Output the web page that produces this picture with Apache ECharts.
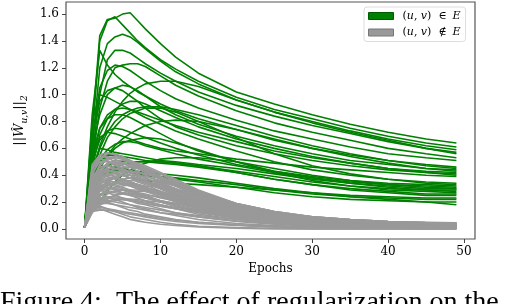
<!DOCTYPE html>
<html>
<head>
<meta charset="utf-8">
<script src="https://cdn.jsdelivr.net/npm/echarts@6/dist/echarts.min.js"></script>
<style>
html,body{margin:0;padding:0;background:#fff;}
#chart{width:508px;height:304px;}
</style>
</head>
<body>
<div id="chart"></div>
<script>
// ---- data ----
const epochs = [0,1,2,3,4,5,6,7,8,10,12,15,20,25,30,35,40,45,49];
const xTicks = [0,10,20,30,40,50];
const yTicks = [0,0.2,0.4,0.6,0.8,1.0,1.2,1.4,1.6];
const edgeLabel = '(u, v) ∈ E';
const nonEdgeLabel = '(u, v) ∉ E';
const captionText = 'Figure 4:  The effect of regularization on the';

// ||W_uv|| for true edges (one row per edge, values at `epochs`)
const edgeNorms = [
 [0.01,0.75,1.44,1.56,1.57,1.60,1.61,1.55,1.49,1.38,1.28,1.16,1.02,0.93,0.85,0.78,0.72,0.67,0.64],
 [0.01,0.70,1.40,1.55,1.58,1.52,1.46,1.40,1.35,1.26,1.19,1.10,0.98,0.89,0.82,0.75,0.69,0.64,0.61],
 [0.01,0.60,1.20,1.38,1.43,1.45,1.43,1.39,1.34,1.25,1.17,1.08,0.96,0.87,0.80,0.73,0.67,0.62,0.59],
 [0.01,0.55,1.00,1.26,1.33,1.33,1.31,1.27,1.23,1.16,1.10,1.02,0.92,0.84,0.77,0.71,0.65,0.60,0.57],
 [0.01,0.40,0.62,0.76,0.87,0.95,1.01,1.05,1.08,1.10,1.10,1.06,0.96,0.87,0.79,0.72,0.66,0.60,0.56],
 [0.01,0.50,0.90,1.10,1.20,1.22,1.23,1.23,1.21,1.14,1.07,0.99,0.88,0.79,0.72,0.66,0.60,0.56,0.53],
 [0.01,0.65,1.05,1.18,1.22,1.21,1.18,1.14,1.10,1.03,0.97,0.90,0.81,0.73,0.67,0.61,0.56,0.53,0.51],
 [0.01,0.85,1.33,1.22,1.15,1.10,1.06,1.02,0.99,0.93,0.88,0.82,0.74,0.66,0.60,0.55,0.51,0.48,0.46],
 [0.01,0.60,0.85,1.00,1.05,1.07,1.06,1.03,0.99,0.91,0.85,0.78,0.69,0.62,0.56,0.51,0.48,0.45,0.44],
 [0.01,0.40,0.60,0.72,0.80,0.85,0.88,0.90,0.91,0.91,0.89,0.85,0.77,0.69,0.62,0.56,0.51,0.47,0.45],
 [0.01,0.50,0.75,0.85,0.89,0.90,0.89,0.87,0.85,0.81,0.77,0.72,0.65,0.58,0.53,0.49,0.45,0.43,0.42],
 [0.01,0.45,0.70,0.82,0.89,0.93,0.95,0.95,0.93,0.88,0.83,0.76,0.67,0.60,0.54,0.49,0.45,0.42,0.41],
 [0.01,0.30,0.45,0.55,0.62,0.67,0.71,0.74,0.77,0.80,0.81,0.80,0.74,0.67,0.60,0.54,0.49,0.45,0.43],
 [0.01,0.55,0.68,0.72,0.71,0.69,0.67,0.65,0.63,0.60,0.58,0.56,0.52,0.49,0.46,0.44,0.42,0.40,0.39],
 [0.01,0.70,0.95,1.03,1.05,1.03,0.99,0.95,0.90,0.82,0.76,0.70,0.62,0.56,0.51,0.47,0.44,0.42,0.40],
 [0.01,0.80,1.00,0.98,0.95,0.92,0.89,0.86,0.83,0.78,0.73,0.67,0.58,0.50,0.44,0.40,0.37,0.35,0.34],
 [0.01,0.35,0.55,0.68,0.76,0.82,0.86,0.88,0.90,0.90,0.87,0.80,0.68,0.56,0.47,0.41,0.37,0.34,0.33],
 [0.01,0.50,0.66,0.73,0.75,0.74,0.72,0.70,0.68,0.64,0.60,0.55,0.48,0.43,0.39,0.36,0.34,0.33,0.32],
 [0.01,0.40,0.52,0.59,0.63,0.65,0.65,0.64,0.62,0.59,0.56,0.52,0.47,0.42,0.38,0.35,0.33,0.32,0.31],
 [0.01,0.45,0.60,0.59,0.57,0.56,0.55,0.54,0.53,0.51,0.50,0.48,0.45,0.41,0.37,0.34,0.32,0.30,0.30],
 [0.01,0.55,0.75,0.82,0.85,0.85,0.83,0.80,0.77,0.71,0.65,0.58,0.50,0.43,0.38,0.34,0.31,0.29,0.29],
 [0.01,0.35,0.50,0.55,0.55,0.54,0.53,0.52,0.51,0.50,0.49,0.47,0.43,0.39,0.35,0.32,0.30,0.29,0.28],
 [0.01,0.30,0.45,0.54,0.60,0.64,0.66,0.67,0.68,0.67,0.64,0.59,0.50,0.42,0.36,0.32,0.29,0.28,0.27],
 [0.01,0.30,0.42,0.47,0.49,0.50,0.50,0.50,0.50,0.49,0.48,0.46,0.42,0.37,0.33,0.30,0.28,0.26,0.26],
 [0.01,0.25,0.38,0.44,0.47,0.48,0.49,0.50,0.50,0.50,0.49,0.47,0.42,0.37,0.33,0.29,0.27,0.25,0.25],
 [0.01,0.35,0.45,0.47,0.46,0.45,0.44,0.43,0.42,0.41,0.40,0.38,0.34,0.30,0.27,0.25,0.24,0.23,0.23],
 [0.01,0.30,0.42,0.44,0.44,0.43,0.42,0.41,0.40,0.39,0.38,0.36,0.33,0.29,0.26,0.24,0.23,0.22,0.22],
 [0.01,0.25,0.38,0.42,0.43,0.43,0.42,0.41,0.40,0.38,0.37,0.35,0.31,0.27,0.24,0.22,0.21,0.20,0.20],
 [0.01,0.18,0.40,0.44,0.42,0.40,0.38,0.37,0.36,0.35,0.34,0.33,0.31,0.29,0.27,0.24,0.22,0.20,0.18],
 [0.01,0.17,0.20,0.28,0.35,0.40,0.44,0.47,0.49,0.52,0.53,0.53,0.50,0.45,0.40,0.36,0.33,0.31,0.30]
];

// ||W_uv|| for non-edges
const nonEdgeNorms = [
 [0.01,0.45,0.55,0.57,0.55,0.52,0.49,0.46,0.43,0.38,0.33,0.26,0.17,0.12,0.09,0.07,0.055,0.048,0.045],
 [0.01,0.40,0.52,0.56,0.56,0.54,0.51,0.48,0.45,0.39,0.33,0.25,0.16,0.11,0.08,0.06,0.05,0.04,0.04],
 [0.01,0.48,0.55,0.53,0.50,0.47,0.44,0.41,0.38,0.33,0.28,0.22,0.14,0.10,0.07,0.05,0.04,0.035,0.03],
 [0.01,0.35,0.47,0.52,0.53,0.52,0.50,0.47,0.44,0.38,0.32,0.24,0.15,0.10,0.07,0.055,0.045,0.04,0.035],
 [0.01,0.30,0.42,0.48,0.51,0.51,0.50,0.48,0.46,0.41,0.35,0.27,0.17,0.11,0.08,0.06,0.05,0.04,0.04],
 [0.01,0.42,0.50,0.50,0.48,0.45,0.42,0.39,0.36,0.30,0.25,0.19,0.12,0.08,0.055,0.04,0.03,0.025,0.02],
 [0.01,0.28,0.38,0.44,0.47,0.48,0.48,0.47,0.45,0.41,0.36,0.28,0.18,0.12,0.085,0.065,0.05,0.045,0.04],
 [0.01,0.38,0.46,0.47,0.45,0.43,0.40,0.37,0.35,0.30,0.26,0.20,0.13,0.09,0.06,0.045,0.035,0.03,0.025],
 [0.01,0.33,0.42,0.45,0.45,0.44,0.42,0.40,0.38,0.34,0.29,0.23,0.15,0.10,0.07,0.05,0.04,0.035,0.03],
 [0.01,0.25,0.35,0.40,0.42,0.43,0.43,0.42,0.41,0.38,0.34,0.27,0.18,0.12,0.08,0.06,0.05,0.04,0.035],
 [0.01,0.40,0.44,0.42,0.39,0.36,0.34,0.32,0.30,0.26,0.22,0.17,0.11,0.07,0.05,0.035,0.025,0.02,0.02],
 [0.01,0.30,0.38,0.41,0.41,0.40,0.38,0.36,0.34,0.30,0.26,0.21,0.14,0.09,0.065,0.05,0.04,0.03,0.03],
 [0.01,0.22,0.30,0.35,0.38,0.40,0.40,0.40,0.39,0.36,0.32,0.26,0.17,0.11,0.08,0.06,0.045,0.04,0.035],
 [0.01,0.35,0.40,0.39,0.37,0.35,0.33,0.31,0.29,0.25,0.21,0.16,0.10,0.065,0.045,0.03,0.025,0.02,0.015],
 [0.01,0.28,0.35,0.38,0.38,0.37,0.35,0.33,0.31,0.27,0.23,0.18,0.12,0.08,0.055,0.04,0.03,0.025,0.02],
 [0.01,0.20,0.28,0.32,0.35,0.36,0.36,0.36,0.35,0.33,0.30,0.25,0.17,0.11,0.08,0.06,0.045,0.04,0.035],
 [0.01,0.32,0.36,0.35,0.33,0.31,0.29,0.27,0.25,0.21,0.18,0.14,0.09,0.06,0.04,0.03,0.02,0.015,0.015],
 [0.01,0.25,0.32,0.34,0.34,0.33,0.32,0.30,0.29,0.26,0.23,0.19,0.13,0.09,0.06,0.045,0.035,0.03,0.025],
 [0.01,0.18,0.25,0.29,0.31,0.32,0.33,0.33,0.32,0.31,0.28,0.24,0.17,0.12,0.085,0.065,0.05,0.04,0.035],
 [0.01,0.30,0.33,0.31,0.29,0.27,0.25,0.23,0.21,0.18,0.15,0.11,0.07,0.045,0.03,0.02,0.015,0.01,0.01],
 [0.01,0.22,0.28,0.30,0.30,0.29,0.28,0.27,0.26,0.23,0.21,0.17,0.12,0.08,0.055,0.04,0.03,0.025,0.02],
 [0.01,0.16,0.22,0.26,0.28,0.29,0.29,0.29,0.28,0.27,0.25,0.21,0.15,0.10,0.07,0.05,0.04,0.035,0.03],
 [0.01,0.27,0.29,0.27,0.25,0.23,0.21,0.19,0.18,0.15,0.12,0.09,0.055,0.035,0.02,0.015,0.01,0.01,0.01],
 [0.01,0.20,0.25,0.27,0.27,0.26,0.25,0.24,0.23,0.21,0.19,0.16,0.11,0.075,0.05,0.035,0.025,0.02,0.02],
 [0.01,0.15,0.20,0.23,0.25,0.26,0.26,0.26,0.25,0.24,0.22,0.19,0.14,0.10,0.07,0.05,0.04,0.03,0.03],
 [0.01,0.24,0.26,0.24,0.22,0.20,0.18,0.16,0.15,0.12,0.10,0.07,0.04,0.025,0.015,0.01,0.01,0.005,0.005],
 [0.01,0.18,0.22,0.23,0.23,0.22,0.21,0.20,0.19,0.17,0.15,0.13,0.09,0.06,0.04,0.03,0.02,0.015,0.015],
 [0.01,0.14,0.18,0.20,0.21,0.22,0.22,0.22,0.21,0.20,0.19,0.17,0.13,0.09,0.065,0.05,0.04,0.03,0.03],
 [0.01,0.21,0.22,0.20,0.18,0.16,0.14,0.13,0.11,0.09,0.07,0.05,0.03,0.015,0.01,0.005,0.005,0.0,0.0],
 [0.01,0.16,0.19,0.19,0.18,0.17,0.16,0.15,0.14,0.12,0.11,0.09,0.06,0.04,0.025,0.02,0.015,0.01,0.01],
 [0.01,0.17,0.17,0.15,0.13,0.11,0.09,0.08,0.07,0.05,0.035,0.02,0.01,0.005,0.0,0.0,0.0,0.0,0.0],
 [0.01,0.15,0.16,0.15,0.14,0.13,0.12,0.11,0.10,0.08,0.065,0.05,0.03,0.02,0.01,0.01,0.005,0.005,0.005],
 [0.01,0.14,0.15,0.13,0.11,0.09,0.07,0.06,0.05,0.035,0.025,0.015,0.005,0.0,0.0,0.0,0.0,0.0,0.0],
 [0.01,0.13,0.14,0.14,0.13,0.12,0.11,0.10,0.09,0.07,0.055,0.04,0.025,0.015,0.01,0.005,0.005,0.005,0.005],
 [0.01,0.36,0.48,0.53,0.54,0.53,0.51,0.49,0.47,0.42,0.37,0.29,0.19,0.13,0.09,0.07,0.055,0.05,0.045],
 [0.01,0.26,0.36,0.42,0.45,0.46,0.46,0.45,0.43,0.39,0.34,0.27,0.17,0.11,0.075,0.055,0.045,0.04,0.035],
 [0.01,0.44,0.52,0.51,0.48,0.45,0.42,0.39,0.36,0.31,0.27,0.21,0.14,0.10,0.07,0.05,0.04,0.035,0.03],
 [0.01,0.20,0.30,0.36,0.39,0.41,0.42,0.42,0.41,0.38,0.34,0.28,0.19,0.13,0.09,0.07,0.055,0.045,0.04],
 [0.01,0.12,0.18,0.22,0.25,0.27,0.28,0.28,0.28,0.27,0.25,0.22,0.16,0.11,0.08,0.06,0.045,0.04,0.035],
 [0.01,0.38,0.43,0.44,0.42,0.40,0.38,0.35,0.33,0.28,0.24,0.18,0.12,0.08,0.055,0.04,0.03,0.025,0.02],
 [0.01,0.23,0.33,0.37,0.38,0.37,0.35,0.33,0.31,0.27,0.23,0.18,0.12,0.08,0.055,0.04,0.03,0.025,0.02],
 [0.01,0.19,0.26,0.28,0.28,0.27,0.26,0.25,0.24,0.21,0.19,0.15,0.10,0.07,0.045,0.035,0.025,0.02,0.02],
 [0.01,0.16,0.24,0.30,0.34,0.37,0.38,0.38,0.37,0.35,0.32,0.27,0.19,0.13,0.09,0.07,0.055,0.045,0.04],
 [0.01,0.32,0.40,0.43,0.43,0.42,0.40,0.38,0.36,0.32,0.28,0.22,0.15,0.10,0.07,0.05,0.04,0.035,0.03],
 [0.01,0.17,0.21,0.21,0.20,0.19,0.18,0.17,0.16,0.14,0.12,0.10,0.07,0.045,0.03,0.02,0.015,0.01,0.01],
 [0.01,0.27,0.34,0.36,0.35,0.34,0.32,0.30,0.28,0.24,0.20,0.15,0.09,0.06,0.04,0.03,0.02,0.015,0.01],
 [0.01,0.21,0.29,0.33,0.34,0.34,0.33,0.32,0.31,0.28,0.25,0.20,0.14,0.09,0.06,0.045,0.035,0.03,0.025],
 [0.01,0.31,0.39,0.40,0.39,0.37,0.35,0.33,0.31,0.27,0.24,0.19,0.13,0.09,0.06,0.045,0.035,0.03,0.025],
 [0.01,0.24,0.31,0.33,0.32,0.30,0.28,0.26,0.24,0.20,0.17,0.13,0.08,0.05,0.035,0.025,0.02,0.015,0.01],
 [0.01,0.19,0.23,0.24,0.24,0.23,0.22,0.21,0.20,0.18,0.16,0.14,0.10,0.07,0.05,0.035,0.03,0.025,0.02],
 [0.01,0.29,0.40,0.46,0.49,0.49,0.48,0.46,0.44,0.39,0.34,0.26,0.16,0.11,0.075,0.055,0.045,0.04,0.035],
 [0.01,0.46,0.53,0.54,0.52,0.49,0.46,0.43,0.40,0.35,0.30,0.23,0.15,0.10,0.075,0.06,0.05,0.045,0.04],
 [0.01,0.15,0.19,0.21,0.22,0.22,0.21,0.20,0.19,0.17,0.15,0.12,0.08,0.05,0.035,0.025,0.02,0.015,0.015],
 [0.01,0.25,0.30,0.31,0.30,0.29,0.27,0.25,0.23,0.20,0.17,0.13,0.085,0.055,0.04,0.03,0.02,0.015,0.015],
 [0.01,0.34,0.44,0.49,0.50,0.49,0.47,0.45,0.42,0.37,0.32,0.25,0.16,0.11,0.08,0.06,0.05,0.04,0.035]
];

// ---- chart ----
const GREEN = '#008000';
const GRAY = '#999999';
const FONT = 'DejaVu Serif';

function makeSeries(rows, name, color) {
  return rows.map(vals => ({
    type: 'line',
    name: name,
    data: epochs.map((e, i) => [e, vals[i]]),
    showSymbol: false,
    symbol: 'none',
    lineStyle: { color: color, width: 1.6 },
    itemStyle: { color: color },
    silent: true,
    animation: false
  }));
}

const chart = echarts.init(document.getElementById('chart'), null, { renderer: 'canvas' });

const legendRich = {
  a: { fontFamily: FONT, fontSize: 11, color: '#000', padding: [0,0,0,4] },
  r: { fontFamily: FONT, fontSize: 11, color: '#000' },
  m: { fontFamily: FONT, fontSize: 11, fontStyle: 'italic', color: '#000' },
  o: { fontFamily: FONT, fontSize: 11, color: '#000', padding: [0,6,0,7] }
};

chart.setOption({
  animation: false,
  backgroundColor: '#fff',
  grid: {
    left: 66, top: 2, right: 33, bottom: 65,
    show: true, borderColor: '#555', borderWidth: 1.2, backgroundColor: 'transparent'
  },
  legend: {
    left: 364, top: 7,
    orient: 'vertical',
    icon: 'rect',
    itemWidth: 25, itemHeight: 7,
    itemGap: 4.5,
    padding: [3, 5, 3, 4],
    borderColor: '#dddddd', borderWidth: 1, borderRadius: 3,
    backgroundColor: 'rgba(255,255,255,0.8)',
    selectedMode: false,
    data: [
      { name: edgeLabel, itemStyle: { color: GREEN, borderColor: '#005a00', borderWidth: 1 } },
      { name: nonEdgeLabel, itemStyle: { color: GRAY, borderColor: '#777', borderWidth: 1 } }
    ],
    formatter: function (name) {
      const op = name === edgeLabel ? '∈' : '∉';
      return '{a|(}{m|u}{r|, }{m|v}{r|)}{o|' + op + '}{m|E}';
    },
    textStyle: { lineHeight: 12, rich: legendRich }
  },
  xAxis: {
    type: 'value',
    min: -2.45, max: 51.45,
    name: 'Epochs',
    nameLocation: 'middle',
    nameGap: 22,
    nameTextStyle: { fontFamily: FONT, fontSize: 12, color: '#000' },
    axisLine: { show: false, onZero: false },
    splitLine: { show: false },
    axisTick: { show: true, inside: false, length: 4, lineStyle: { color: '#444', width: 1 }, customValues: xTicks },
    axisLabel: { fontFamily: FONT, fontSize: 12, color: '#000', margin: 7, customValues: xTicks, formatter: v => String(v) }
  },
  yAxis: {
    type: 'value',
    min: -0.075, max: 1.69,
    name: '{n|||}{w|Ŵ}{s|u,v}{n|||}{s|2}',
    nameLocation: 'middle',
    nameRotate: 90,
    nameGap: 29,
    nameTextStyle: {
      rich: {
        n: { fontFamily: FONT, fontSize: 13, color: '#000', lineHeight: 18 },
        w: { fontFamily: FONT, fontSize: 13, fontStyle: 'italic', color: '#000', lineHeight: 18 },
        s: { fontFamily: FONT, fontSize: 9, fontStyle: 'italic', color: '#000', lineHeight: 18, verticalAlign: 'bottom' }
      }
    },
    axisLine: { show: false, onZero: false },
    splitLine: { show: false },
    axisTick: { show: true, inside: false, length: 4, lineStyle: { color: '#444', width: 1 }, customValues: yTicks },
    axisLabel: { fontFamily: FONT, fontSize: 12, color: '#000', margin: 7, customValues: yTicks, formatter: v => v.toFixed(1) }
  },
  graphic: [{
    type: 'text',
    left: 0, top: 289,
    style: { text: captionText, font: '28px "Liberation Serif"', fill: '#000' },
    silent: true
  }],
  series: makeSeries(edgeNorms, edgeLabel, GREEN).concat(makeSeries(nonEdgeNorms, nonEdgeLabel, GRAY))
});
</script>
</body>
</html>
